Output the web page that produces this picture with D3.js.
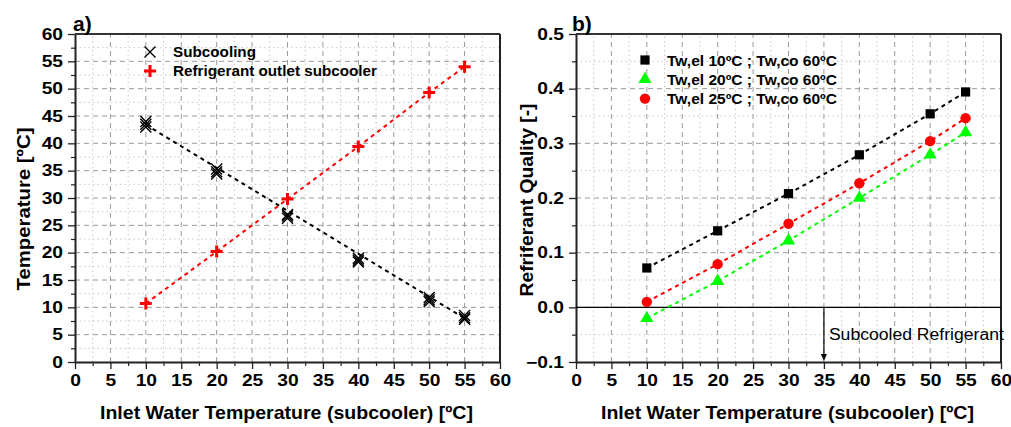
<!DOCTYPE html>
<html>
<head>
<meta charset="utf-8">
<script src="https://d3js.org/d3.v7.min.js"></script>
<style>
  body { margin: 0; background: #fff; }
  svg { font-family: "Liberation Sans", Arial, sans-serif; }
  .tick text { font-weight: bold; font-size: 16px; fill: #000; }
  .grid-major { stroke: #9a9a9a; stroke-width: 1; stroke-dasharray: 5 4; }
  .grid-minor { stroke: #c8c8c8; stroke-width: 1; stroke-dasharray: 1.5 3; }
</style>
</head>
<body>
<svg width="1011" height="427"></svg>
<script>
// ---- data (a) ----
var inletT = [10, 20, 30, 40, 50, 55];
var subcoolA = [44.0, 35.3, 27.0, 19.0, 11.8, 8.5];
var subcoolB = [43.0, 34.4, 26.3, 18.3, 11.0, 7.8];
var subcoolC = [43.5, 34.8, 26.7, 18.6, 11.4, 8.1];
var outletT = [10.7, 20.2, 29.8, 39.4, 49.3, 54.0];
var subcoolFitX = [10, 55];
var subcoolFitY = [43.4, 8.0];

// ---- data (b) ----
var qual10 = [0.072, 0.140, 0.208, 0.279, 0.354, 0.394];
var qual20 = [-0.020, 0.048, 0.122, 0.200, 0.279, 0.320];
var qual25 = [0.010, 0.079, 0.153, 0.227, 0.304, 0.346];

var xTicks = d3.range(0, 61, 5);
var tempTicks = d3.range(0, 61, 5);
var qualTicks = [-0.1, 0, 0.1, 0.2, 0.3, 0.4, 0.5];

var svg = d3.select("svg");

function stretch(sel, f) {
    sel.each(function() {
        var w = this.getComputedTextLength();
        d3.select(this).attr("textLength", w * f).attr("lengthAdjust", "spacingAndGlyphs");
    });
}

function panel(x0, x1, yDomain, yMajor, yMinorStep, yFmt) {
    var x = d3.scaleLinear().domain([0, 60]).range([x0, x1]);
    var y = d3.scaleLinear().domain(yDomain).range([362, 34]);
    var g = svg.append("g");

    // grid
    var xMinor = d3.range(2.5, 60, 5);
    var yMinor = d3.range(yDomain[0] + yMinorStep, yDomain[1], yMinorStep * 2);
    g.selectAll(".gvm").data(xMinor).enter().append("line").attr("class", "grid-minor")
        .attr("x1", d => x(d)).attr("x2", d => x(d)).attr("y1", y.range()[0]).attr("y2", y.range()[1]);
    g.selectAll(".ghm").data(yMinor).enter().append("line").attr("class", "grid-minor")
        .attr("y1", d => y(d)).attr("y2", d => y(d)).attr("x1", x0).attr("x2", x1);
    g.selectAll(".gvM").data(xTicks.slice(1, -1)).enter().append("line").attr("class", "grid-major")
        .attr("x1", d => x(d)).attr("x2", d => x(d)).attr("y1", y.range()[0]).attr("y2", y.range()[1]);
    g.selectAll(".ghM").data(yMajor.slice(1, -1)).enter().append("line").attr("class", "grid-major")
        .attr("y1", d => y(d)).attr("y2", d => y(d)).attr("x1", x0).attr("x2", x1);

    // minor ticks
    g.append("g").attr("transform", "translate(0,362)")
        .call(d3.axisBottom(x).tickValues(xMinor).tickSize(4).tickFormat("").tickSizeOuter(0))
        .call(a => a.select(".domain").remove())
        .selectAll("line").attr("stroke", "#222").attr("stroke-width", 1.2);
    g.append("g").attr("transform", "translate(" + x0 + ",0)")
        .call(d3.axisLeft(y).tickValues(yMinor).tickSize(4).tickFormat("").tickSizeOuter(0))
        .call(a => a.select(".domain").remove())
        .selectAll("line").attr("stroke", "#222").attr("stroke-width", 1.2);

    // major axes
    var xa = g.append("g").attr("transform", "translate(0,362)")
        .call(d3.axisBottom(x).tickValues(xTicks).tickSize(7).tickPadding(6).tickSizeOuter(0));
    var ya = g.append("g").attr("transform", "translate(" + x0 + ",0)")
        .call(d3.axisLeft(y).tickValues(yMajor).tickSize(7).tickPadding(5).tickSizeOuter(0).tickFormat(yFmt));
    [xa, ya].forEach(function(a) {
        a.select(".domain").attr("stroke", "#222").attr("stroke-width", 2);
        a.selectAll(".tick line").attr("stroke", "#222").attr("stroke-width", 1.3);
        stretch(a.selectAll("text"), 1.2);
    });

    // top / right border
    g.append("line").attr("x1", x0).attr("x2", x1).attr("y1", 34).attr("y2", 34)
        .attr("stroke", "#333").attr("stroke-width", 2);
    g.append("line").attr("x1", x1).attr("x2", x1).attr("y1", 34).attr("y2", 362)
        .attr("stroke", "#222").attr("stroke-width", 2);

    // x title
    g.append("text").attr("x", x0 + 25).attr("y", 419)
        .attr("font-size", 19).attr("font-weight", "bold")
        .attr("textLength", 373).attr("lengthAdjust", "spacingAndGlyphs")
        .text("Inlet Water Temperature (subcooler) [ºC]");
    return { x: x, y: y, g: g };
}

// ---------- panel a ----------
var A = panel(75, 500, [0, 60], tempTicks, 2.5, d3.format("d"));

A.g.append("text").attr("transform", "translate(30,209) rotate(-90)")
    .attr("text-anchor", "middle").attr("font-size", 19).attr("font-weight", "bold")
    .attr("textLength", 163).attr("lengthAdjust", "spacingAndGlyphs")
    .text("Temperature [ºC]");
A.g.append("text").attr("x", 73).attr("y", 31).attr("font-size", 21).attr("font-weight", "bold").text("a)");

var fit = subcoolFitX.map((v, i) => [v, subcoolFitY[i]]);
A.g.append("path").datum(fit)
    .attr("d", d3.line().x(d => A.x(d[0])).y(d => A.y(d[1])))
    .attr("fill", "none").attr("stroke", "#000").attr("stroke-width", 2).attr("stroke-dasharray", "4 4");
A.g.append("path").datum(inletT.map((v, i) => [v, outletT[i]]))
    .attr("d", d3.line().x(d => A.x(d[0])).y(d => A.y(d[1])))
    .attr("fill", "none").attr("stroke", "#ff0000").attr("stroke-width", 2).attr("stroke-dasharray", "4 4");

function cross(gg, cx, cy, r) {
    gg.append("path").attr("d", "M" + (cx - r) + "," + (cy - r) + "L" + (cx + r) + "," + (cy + r) +
        "M" + (cx - r) + "," + (cy + r) + "L" + (cx + r) + "," + (cy - r))
        .attr("stroke", "#000").attr("stroke-width", 1.4).attr("fill", "none");
}
function plus(gg, cx, cy, r) {
    gg.append("path").attr("d", "M" + (cx - r) + "," + cy + "L" + (cx + r) + "," + cy +
        "M" + cx + "," + (cy - r) + "L" + cx + "," + (cy + r))
        .attr("stroke", "#ff0000").attr("stroke-width", 3).attr("fill", "none");
}
[subcoolA, subcoolB, subcoolC].forEach(function(s) {
    s.forEach((v, i) => cross(A.g, A.x(inletT[i]), A.y(v), 5.5));
});
outletT.forEach((v, i) => plus(A.g, A.x(inletT[i]), A.y(v), 6));

// legend a
cross(A.g, 150, 52, 5.5);
plus(A.g, 150, 71, 6);
A.g.append("text").attr("x", 173).attr("y", 57).attr("font-size", 15).attr("font-weight", "bold")
    .attr("textLength", 83).attr("lengthAdjust", "spacingAndGlyphs").text("Subcooling");
A.g.append("text").attr("x", 173).attr("y", 76).attr("font-size", 15).attr("font-weight", "bold")
    .attr("textLength", 204).attr("lengthAdjust", "spacingAndGlyphs").text("Refrigerant outlet subcooler");

// ---------- panel b ----------
var B = panel(576, 1001, [-0.1, 0.5], qualTicks, 0.05, d3.format(".1f"));

B.g.append("text").attr("transform", "translate(533,200) rotate(-90)")
    .attr("text-anchor", "middle").attr("font-size", 19).attr("font-weight", "bold")
    .attr("textLength", 193).attr("lengthAdjust", "spacingAndGlyphs")
    .text("Refriferant Quality [-]");
B.g.append("text").attr("x", 572).attr("y", 31).attr("font-size", 21).attr("font-weight", "bold").text("b)");

// zero line and annotation
B.g.append("line").attr("x1", B.x(0)).attr("x2", B.x(60)).attr("y1", B.y(0)).attr("y2", B.y(0))
    .attr("stroke", "#000").attr("stroke-width", 1.3);
B.g.append("line").attr("x1", B.x(35)).attr("x2", B.x(35)).attr("y1", B.y(0)).attr("y2", B.y(-0.1) - 6)
    .attr("stroke", "#000").attr("stroke-width", 1.2);
B.g.append("path").attr("d", "M" + (B.x(35) - 3) + "," + (B.y(-0.1) - 8) + "L" + (B.x(35) + 3) + "," + (B.y(-0.1) - 8) +
    "L" + B.x(35) + "," + (B.y(-0.1) - 1) + "Z").attr("fill", "#000");
B.g.append("text").attr("x", B.x(35.7)).attr("y", B.y(-0.06)).attr("font-size", 16)
    .attr("textLength", 175).attr("lengthAdjust", "spacingAndGlyphs").text("Subcooled Refrigerant");

var qSeries = [
    { vals: qual10, color: "#000000", shape: d3.symbolSquare },
    { vals: qual20, color: "#00ff00", shape: d3.symbolTriangle },
    { vals: qual25, color: "#ff0000", shape: d3.symbolCircle }
];
qSeries.forEach(function(s) {
    B.g.append("path").datum(inletT.map((v, i) => [v, s.vals[i]]))
        .attr("d", d3.line().x(d => B.x(d[0])).y(d => B.y(d[1])))
        .attr("fill", "none").attr("stroke", s.color).attr("stroke-width", 2).attr("stroke-dasharray", "4 4");
});
qSeries.forEach(function(s) {
    B.g.selectAll(null).data(s.vals).enter().append("path")
        .attr("transform", (d, i) => "translate(" + B.x(inletT[i]) + "," + B.y(d) + ")")
        .attr("d", d3.symbol().type(s.shape).size(s.shape === d3.symbolTriangle ? 75 : 85))
        .attr("fill", s.color);
});

// legend b
var legLabels = ["Tw,el 10ºC ; Tw,co 60ºC", "Tw,el 20ºC ; Tw,co 60ºC", "Tw,el 25ºC ; Tw,co 60ºC"];
qSeries.forEach(function(s, i) {
    var ly = 60 + i * 19.3;
    B.g.append("path").attr("transform", "translate(645," + ly + ")")
        .attr("d", d3.symbol().type(s.shape).size(s.shape === d3.symbolTriangle ? 75 : 85)).attr("fill", s.color);
    B.g.append("text").attr("x", 667).attr("y", ly + 5.5).attr("font-size", 15).attr("font-weight", "bold")
        .attr("textLength", 170).attr("lengthAdjust", "spacingAndGlyphs").text(legLabels[i]);
});
</script>
</body>
</html>
